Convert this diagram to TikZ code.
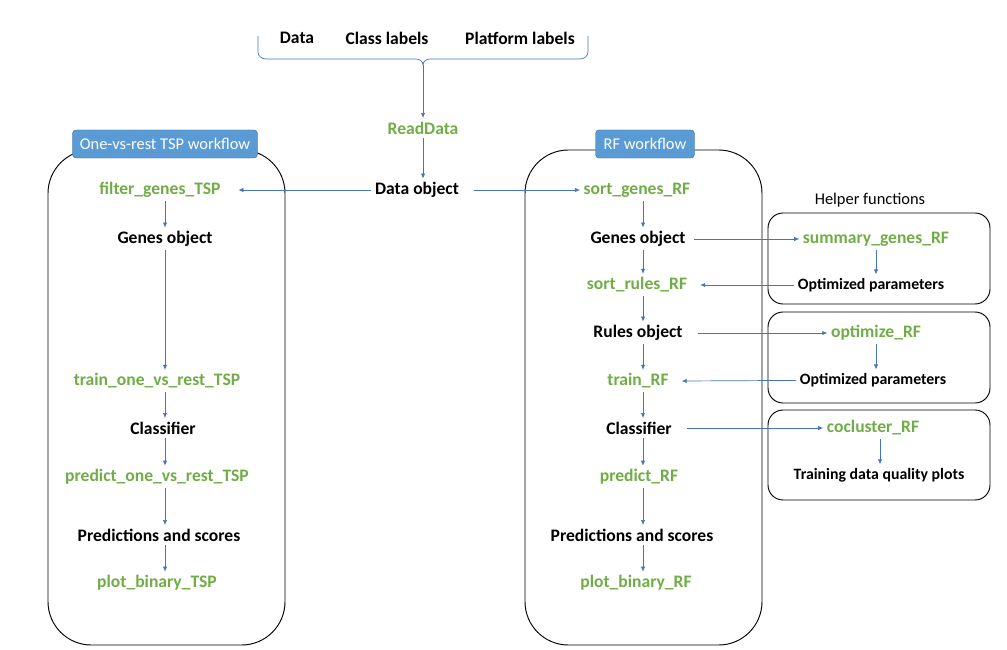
\documentclass[tikz,border=0pt]{standalone}
\usepackage{fontspec}
\setmainfont{Carlito}
\usepackage{xcolor}
\definecolor{fngreen}{RGB}{112,173,71}
\definecolor{arrblue}{RGB}{68,114,196}
\definecolor{hdrblue}{RGB}{91,155,213}
\definecolor{hdredge}{RGB}{65,113,156}
\usetikzlibrary{arrows.meta, positioning}
\tikzset{
  fn/.style={
    font=\fontsize{15}{18}\selectfont\bfseries, text=fngreen,
    inner sep=3pt},
  obj/.style={
    font=\fontsize{15}{18}\selectfont\bfseries, text=black,
    inner sep=3pt},
  hobj/.style={
    font=\fontsize{13.5}{16}\selectfont\bfseries, text=black,
    inner sep=3pt},
  hdr/.style={
    rectangle, draw=hdredge, fill=hdrblue, text=white,
    minimum height=0.84cm, rounded corners=3pt,
    font=\fontsize{14}{17}\selectfont},
  wbox/.style={draw=black, line width=0.8pt, rounded corners=1.3cm},
  hbox/.style={draw=black, line width=0.8pt, rounded corners=0.45cm},
  brc/.style={draw=arrblue, line width=0.6pt},
  arr/.style={-{Latex[length=1.5mm, width=1.3mm]}, line width=0.6pt, arrblue},
}

\begin{document}
\begin{tikzpicture}[x=0.03cm, y=-0.03cm]
  \useasboundingbox (0,0) rectangle (1007,650);

  % inputs
  \node[obj] (dat) at (297,38) {Data};
  \node[obj] (cls) at (387,38) {Class labels};
  \node[obj] (plt) at (520,38) {Platform labels};
  \coordinate (tip) at (423,65);
  \draw[brc] (258,36) -- (258,52) to[out=-90, in=180] (266,59)
    -- (416,59) to[out=0, in=90] (tip);
  \draw[brc] (588,36) -- (588,52) to[out=-90, in=0] (580,59)
    -- (430,59) to[out=180, in=90] (tip);

  \node[fn] (rd) at (423,128) {ReadData};
  \node[obj] (dobj) at (417,190) {Data object};
  \draw[arr] (tip) -- (rd);
  \draw[arr] (rd) -- (rd |- dobj.north);

  % workflow containers
  \draw[wbox] (48,150) rectangle (285,645);
  \draw[wbox] (525,150) rectangle (762,645);
  \node[hdr, minimum width=5.55cm] (htsp) at (165,144) {One-vs-rest TSP workflow};
  \node[hdr, minimum width=2.97cm] (hrf) at (645,144) {RF workflow};

  % one-vs-rest TSP column
  \node[fn]  (ftsp) at (160,190) {filter\_genes\_TSP};
  \node[obj] (gtsp) at (165,239) {Genes object};
  \node[fn]  (ttsp) at (157,381) {train\_one\_vs\_rest\_TSP};
  \node[obj] (ctsp) at (163,428) {Classifier};
  \node[fn]  (ptsp) at (157,477) {predict\_one\_vs\_rest\_TSP};
  \node[obj] (stsp) at (159,535) {Predictions and scores};
  \node[fn]  (btsp) at (157,583) {plot\_binary\_TSP};
  \draw[arr] (dobj) -- ([xshift=12pt]ftsp.east);
  \draw[arr] (ftsp.south -| gtsp) -- (gtsp);
  \draw[arr] (gtsp) -- (gtsp |- ttsp.north);
  \draw[arr] (ttsp.south -| gtsp) -- (gtsp |- ctsp.north);
  \draw[arr] (ctsp.south -| gtsp) -- (gtsp |- ptsp.north);
  \draw[arr] (ptsp.south -| gtsp) -- (gtsp |- stsp.north);
  \draw[arr] (stsp.south -| gtsp) -- (gtsp |- btsp.north);

  % RF column
  \node[fn]  (sgrf) at (637,190) {sort\_genes\_RF};
  \node[obj] (grf)  at (638,239) {Genes object};
  \node[fn]  (srrf) at (637,285) {sort\_rules\_RF};
  \node[obj] (rrf)  at (638,333) {Rules object};
  \node[fn]  (trf)  at (638,381) {train\_RF};
  \node[obj] (crf)  at (639,428) {Classifier};
  \node[fn]  (prf)  at (639,477) {predict\_RF};
  \node[obj] (srf)  at (632,535) {Predictions and scores};
  \node[fn]  (brf)  at (636,583) {plot\_binary\_RF};
  \coordinate (rx) at (643,0);
  \draw[arr] ([xshift=10pt]dobj.east) -- (sgrf);
  \draw[arr] (sgrf.south -| rx) -- (rx |- grf.north);
  \draw[arr] (grf.south -| rx) -- (rx |- srrf.north);
  \draw[arr] (srrf.south -| rx) -- (rx |- rrf.north);
  \draw[arr] (rrf.south -| rx) -- (rx |- trf.north);
  \draw[arr] (trf.south -| rx) -- (rx |- crf.north);
  \draw[arr] (crf.south -| rx) -- (rx |- prf.north);
  \draw[arr] (prf.south -| rx) -- (rx |- srf.north);
  \draw[arr] (srf.south -| rx) -- (rx |- brf.north);

  % helper functions
  \node[font=\fontsize{14}{17}\selectfont] (hlp) at (870,200) {Helper functions};
  \draw[hbox] (768,213) rectangle (990,304);
  \draw[hbox] (768,312) rectangle (990,403);
  \draw[hbox] (768,410) rectangle (990,500);
  \node[fn]   (sumg) at (876,239) {summary\_genes\_RF};
  \node[hobj] (opa)  at (871,285) {Optimized parameters};
  \node[fn]   (optf) at (876,333) {optimize\_RF};
  \node[hobj] (opb)  at (873,380) {Optimized parameters};
  \node[fn]   (cocl) at (873,428) {cocluster\_RF};
  \node[hobj] (tdq)  at (879,475) {Training data quality plots};
  \draw[arr] (sumg.south -| 876,0) -- (876,0 |- opa.north);
  \draw[arr] (optf.south -| 876,0) -- (876,0 |- opb.north);
  \draw[arr] (cocl.south -| 880,0) -- (880,0 |- tdq.north);

  % cross links
  \draw[arr] ([xshift=4pt]grf.east) -- (sumg);
  \draw[arr] (opa) -- ([xshift=8pt]srrf.east);
  \draw[arr] ([xshift=10pt]rrf.east) -- (optf);
  \draw[arr] (opb) -- ([xshift=8pt]trf.east);
  \draw[arr] ([xshift=10pt]crf.east) -- (cocl);
\end{tikzpicture}
\end{document}
